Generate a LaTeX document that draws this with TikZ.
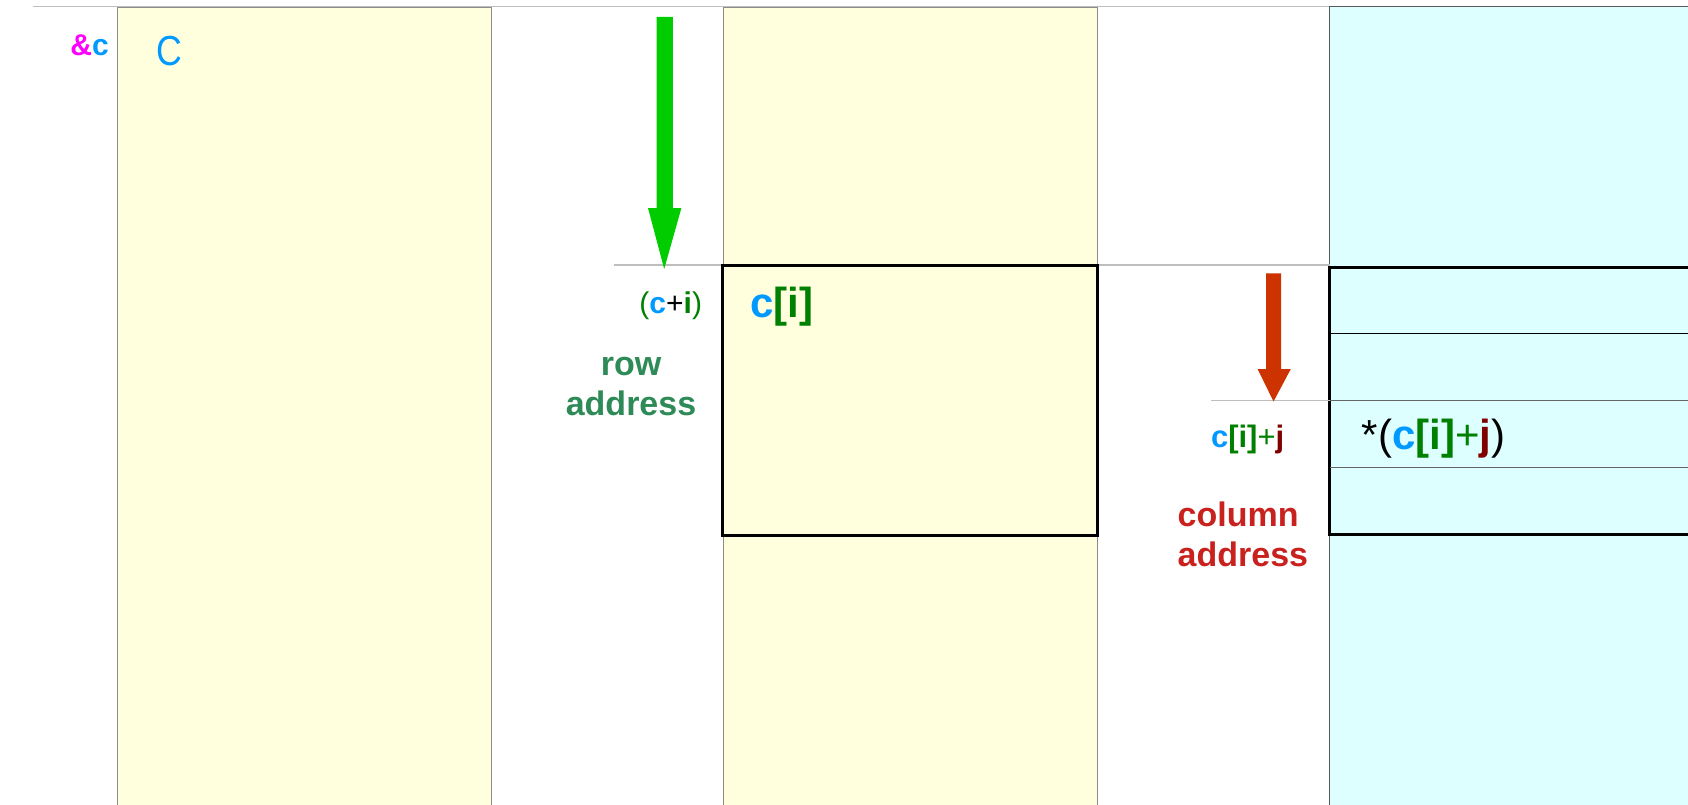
\documentclass[tikz,border=0pt]{standalone}
\usepackage{fontspec}
\setmainfont{Liberation Sans}
\definecolor{cblue}{RGB}{0,153,255}
\definecolor{cmag}{RGB}{255,0,255}
\definecolor{cgreen}{RGB}{0,128,0}
\definecolor{cseagreen}{RGB}{46,139,87}
\definecolor{cdarkred}{RGB}{128,0,0}
\definecolor{ccrimson}{RGB}{201,33,30}
\definecolor{garrow}{RGB}{0,204,0}
\definecolor{rarrow}{RGB}{204,51,0}
\definecolor{yelfill}{RGB}{255,255,221}
\definecolor{cyanfill}{RGB}{221,255,255}
\definecolor{gridgray}{RGB}{190,190,190}
\definecolor{edgegray}{RGB}{140,140,140}
\begin{document}
\begin{tikzpicture}[x=1pt,y=-1pt,
  every node/.style={inner sep=0pt, outer sep=0pt},
  colbox/.style={draw=edgegray, line width=1pt, anchor=north west, minimum width=#1, minimum height=820},
  thickbox/.style={draw=black, line width=3pt, anchor=north west},
  guide/.style={draw=gridgray, line width=1.2pt},
  lbl/.style={font=\fontsize{30}{36}\selectfont},
  big/.style={font=\fontsize{42}{48}\selectfont},
  word/.style={font=\fontsize{34}{40}\selectfont\bfseries, align=center}
]
\useasboundingbox (0,0) rectangle (1688,805);
\clip (0,0) rectangle (1688,805);
\fill[white] (0,0) rectangle (1688,805);

% top guide line
\coordinate (topL) at (33,6.5);
\coordinate (topR) at (1688,6.5);
\draw[guide] (topL) -- (topR);

% columns
\node[colbox=373.7, fill=yelfill] (col1) at (117.3,7.5) {};
\node[colbox=373.6, fill=yelfill] (col2) at (723.4,7.5) {};
\node[colbox=400, fill=cyanfill, draw=black!65] (col3) at (1329.5,6.5) {};

% guide line at row
\coordinate (rowL) at (613.6,265);
\coordinate (rowR) at (1329.5,265);
\draw[guide] (rowL) -- (rowR);

% row box
\node[thickbox, minimum width=374.6, minimum height=270] (rowbox) at (722.4,265) {};

% col3 box and inner lines
\node[thickbox, minimum width=420, minimum height=267] (elembox) at (1329.5,267) {};
\coordinate (l1L) at (1329.5,333.7); \coordinate (l1R) at (1688,333.7);
\coordinate (l2L) at (1211,400.5);   \coordinate (l2R) at (1688,400.5);
\coordinate (l3L) at (1329.5,467.2); \coordinate (l3R) at (1688,467.2);
\draw[black, line width=1pt] (l1L) -- (l1R);
\draw[gridgray, line width=1.2pt] (l2L) -- (l1L |- l2L);
\draw[black!60, line width=1pt] (l1L |- l2L) -- (l2R);
\draw[black!60, line width=1pt] (l3L) -- (l3R);

% green arrow
\fill[garrow] (656.7,17) -- (672.8,17) -- (672.8,208) -- (681.4,208) -- (664.2,269) -- (648,208) -- (656.7,208) -- cycle;
% red arrow
\fill[rarrow] (1266,273.4) -- (1281,273.4) -- (1281,369) -- (1290.8,369) -- (1273.5,401.5) -- (1257.6,369) -- (1266,369) -- cycle;

% texts
\node[lbl, anchor=east] (addrc) at (108.7,45.2) {\bfseries\textcolor{cmag}{\&}\textcolor{cblue}{c}};
\node[big, anchor=west, text=cblue, xscale=0.85] (cname) at (156,50.6) {C};

\node[lbl, anchor=east] (cpi) at (702,306) {\textcolor{cgreen}{(}\textcolor{cblue}{\bfseries c}+\textcolor{cgreen}{\bfseries i}\textcolor{cgreen}{)}};
\node[big, anchor=west] (ci) at (750.3,307) {\bfseries\textcolor{cblue}{c}\textcolor{cgreen}{[i]}};
\node[word, text=cseagreen] (rowaddr) at (631,387) {row\\address};

\node[lbl, anchor=west, font=\fontsize{31}{36}\selectfont] (cij) at (1211,439.5) {\textcolor{cblue}{\bfseries c}\textcolor{cgreen}{\bfseries [i]}\textcolor{cgreen}{+}\textcolor{cdarkred}{\bfseries j}};
\node[big, anchor=west] (deref) at (1361.7,438.5) {*(\textcolor{cblue}{\bfseries c}\textcolor{cgreen}{\bfseries [i]}\textcolor{cgreen}{+}\textcolor{cdarkred}{\bfseries j})};
\node[word, text=ccrimson, align=left, anchor=west] (coladdr) at (1177.7,534.5) {column\\address};
\end{tikzpicture}
\end{document}
